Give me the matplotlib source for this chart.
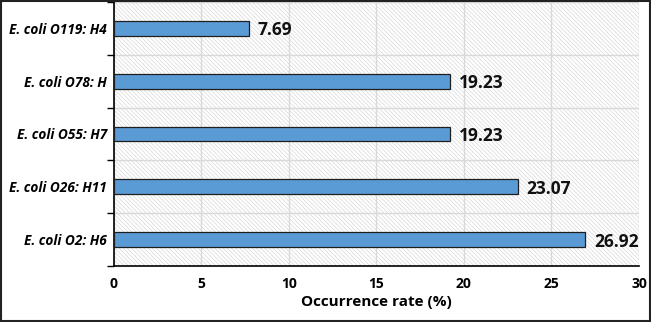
import matplotlib.pyplot as plt
from matplotlib.patches import Rectangle
import matplotlib as mpl

serotypes = ['E. coli O2: H6', 'E. coli O26: H11', 'E. coli O55: H7',
             'E. coli O78: H', 'E. coli O119: H4']
rates = [26.92, 23.07, 19.23, 19.23, 7.69]
xticks = [0, 5, 10, 15, 20, 25, 30]

plt.rcParams['font.family'] = ['Open Sans', 'DejaVu Sans']
mpl.rcParams['hatch.linewidth'] = 0.5

fig = plt.figure(figsize=(6.51, 3.22), dpi=100)
ax = fig.add_axes([0.175, 0.174, 0.8065, 0.82])

# fine hatched plot background
ax.add_patch(Rectangle((0, 0), 1, 1, transform=ax.transAxes, facecolor='white',
                       edgecolor='#d8d8d8', linewidth=0, hatch='\\' * 8, zorder=0))

ypos = list(range(len(serotypes)))
ax.barh(ypos, rates, height=0.28, color='#5b9bd5', edgecolor='#1f1f1f',
        linewidth=0.9, zorder=3)
for y, v in zip(ypos, rates):
    ax.text(v + 0.5, y, f'{v:.2f}', va='center_baseline', ha='left',
            fontsize=12.5, fontweight='bold', color='#111111', zorder=4)

ax.set_xlim(0, 30)
ax.set_ylim(-0.5, len(serotypes) - 0.5)
ax.set_xticks(xticks)
ax.set_xticklabels([str(t) for t in xticks], fontsize=10, fontweight='bold')
ax.set_yticks(ypos)
ax.set_yticklabels(serotypes, fontsize=9.8, fontweight='bold', style='italic',
                   va='center_baseline')
ax.set_yticks([y + 0.5 for y in [-1] + ypos], minor=True)
ax.tick_params(axis='y', which='major', length=0, pad=5)
ax.tick_params(axis='y', which='minor', length=5, width=1, direction='out')
ax.tick_params(axis='x', which='major', length=0, pad=8)

ax.grid(axis='x', color='#d9d9d9', linewidth=1, zorder=1)
ax.grid(axis='y', which='minor', color='#d9d9d9', linewidth=1, zorder=1)
ax.set_axisbelow(True)

for s in ['top', 'right']:
    ax.spines[s].set_visible(False)
for s in ['left', 'bottom']:
    ax.spines[s].set_color('black')
    ax.spines[s].set_linewidth(1.2)

ax.set_xlabel('Occurrence rate (%)', fontsize=11, fontweight='bold', labelpad=3)

# outer frame
fig.patches.append(Rectangle((0.002, 0.003), 0.996, 0.994, transform=fig.transFigure,
                             fill=False, edgecolor='#222222', linewidth=1.5))

fig.savefig('out.png', dpi=100)
